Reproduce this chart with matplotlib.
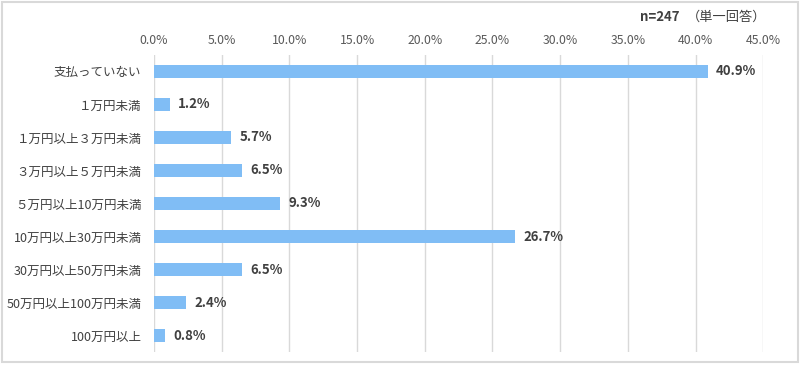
import matplotlib
matplotlib.use("Agg")
import matplotlib.pyplot as plt
from matplotlib.patches import Rectangle

plt.rcParams['font.family'] = ['Noto Sans CJK JP', 'DejaVu Sans']

categories = ["支払っていない", "１万円未満", "１万円以上３万円未満", "３万円以上５万円未満",
              "５万円以上10万円未満", "10万円以上30万円未満", "30万円以上50万円未満",
              "50万円以上100万円未満", "100万円以上"]
values = [40.9, 1.2, 5.7, 6.5, 9.3, 26.7, 6.5, 2.4, 0.8]
xticks = [0, 5, 10, 15, 20, 25, 30, 35, 40, 45]

fig = plt.figure(figsize=(8, 3.66), dpi=100)
fig.patches.append(Rectangle((0.003, 0.012), 0.994, 0.982, transform=fig.transFigure,
                             fill=False, edgecolor="#d9d9d9", linewidth=1.5))
ax = fig.add_axes([0.1925, 0.038, 0.7615, 0.812])

y = list(range(len(categories)))
ax.barh(y, values, height=0.37, color="#80bdf5", zorder=3)
for yi, v in zip(y, values):
    ax.text(v + 0.6, yi, f"{v:.1f}%", va="center", ha="left", fontsize=9.5,
            fontweight="bold", color="#404040")

ax.set_ylim(len(categories) - 0.5, -0.5)
ax.set_xlim(0, 45)
ax.set_yticks(y)
ax.set_yticklabels(categories, fontsize=9, color="#404040")
ax.set_xticks(xticks)
ax.set_xticklabels([f"{t:.1f}%" for t in xticks], fontsize=8.8, color="#595959")
ax.xaxis.tick_top()
ax.tick_params(length=0, pad=6)
ax.tick_params(axis="y", pad=9)
ax.grid(axis="x", color="#d9d9d9", linewidth=1, zorder=0)
for s in ax.spines.values():
    s.set_visible(False)

fig.text(0.80, 0.953, "n=247", fontsize=9.5, fontweight="bold", color="#404040", va="center")
fig.text(0.858, 0.953, "（単一回答）", fontsize=9.5, color="#404040", va="center")

fig.savefig("out.png", dpi=100)
